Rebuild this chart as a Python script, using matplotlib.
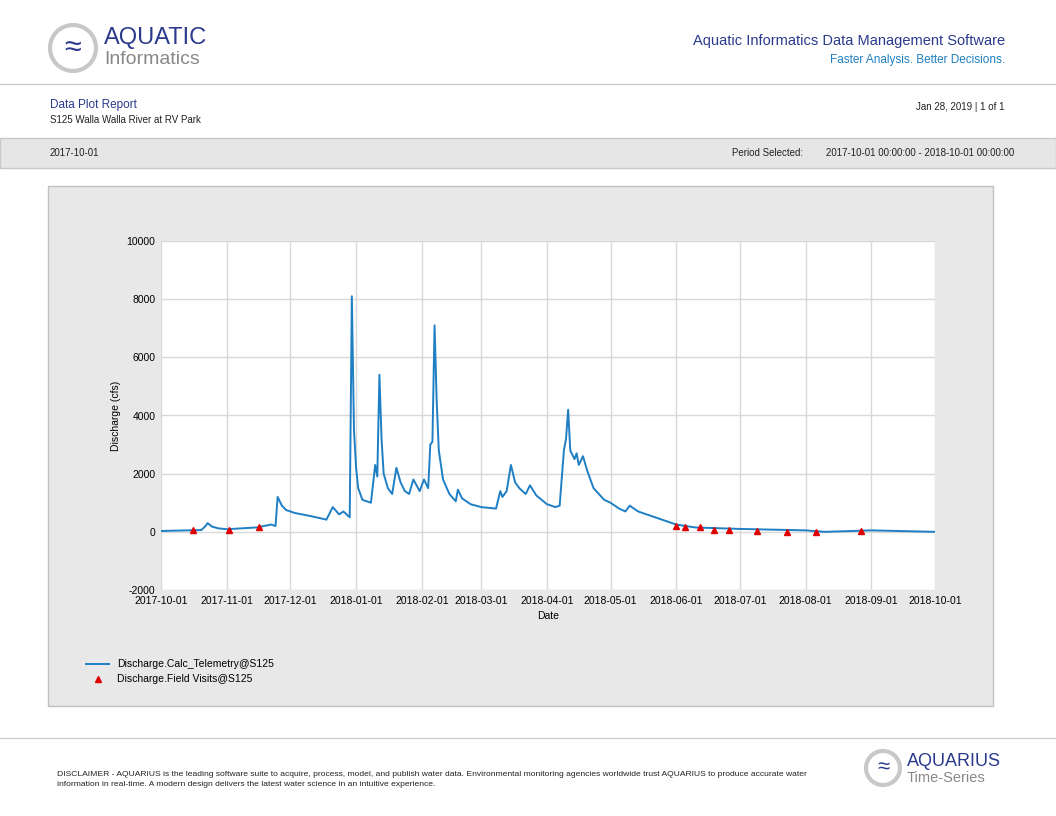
import numpy as np
import pandas as pd
import matplotlib.pyplot as plt
import matplotlib.dates as mdates
from matplotlib.patches import Rectangle, Circle

# Discharge series (hand-read breakpoints)
flow_dates = ["2017-10-01", "2017-10-20", "2017-10-22", "2017-10-23", "2017-10-25", "2017-10-28",
              "2017-11-01", "2017-11-15", "2017-11-22", "2017-11-24", "2017-11-25", "2017-11-27",
              "2017-11-29", "2017-12-03", "2017-12-10", "2017-12-18", "2017-12-21", "2017-12-24",
              "2017-12-26", "2017-12-29", "2017-12-30", "2017-12-31", "2018-01-01", "2018-01-02",
              "2018-01-04", "2018-01-08", "2018-01-10", "2018-01-11", "2018-01-12", "2018-01-13",
              "2018-01-14", "2018-01-16", "2018-01-18", "2018-01-20", "2018-01-22", "2018-01-24",
              "2018-01-26", "2018-01-28", "2018-01-31", "2018-02-02", "2018-02-04", "2018-02-05",
              "2018-02-06", "2018-02-07", "2018-02-08", "2018-02-09", "2018-02-11", "2018-02-14",
              "2018-02-17", "2018-02-18", "2018-02-20", "2018-02-24", "2018-03-01", "2018-03-08",
              "2018-03-10", "2018-03-11", "2018-03-13", "2018-03-15", "2018-03-17", "2018-03-19",
              "2018-03-22", "2018-03-24", "2018-03-27", "2018-04-01", "2018-04-05", "2018-04-07",
              "2018-04-09", "2018-04-10", "2018-04-11", "2018-04-12", "2018-04-14", "2018-04-15",
              "2018-04-16", "2018-04-18", "2018-04-20", "2018-04-23", "2018-04-28", "2018-05-01",
              "2018-05-05", "2018-05-08", "2018-05-10", "2018-05-14", "2018-05-22", "2018-06-01",
              "2018-06-10", "2018-07-01", "2018-08-01", "2018-08-10", "2018-09-01", "2018-10-01"]
flow_values = [30, 60, 200, 300, 180, 120,
               90, 150, 250, 200, 1200, 900,
               750, 650, 550, 420, 850, 600,
               700, 500, 8100, 3500, 2200, 1500,
               1100, 1000, 2300, 1900, 5400, 3200,
               2000, 1500, 1300, 2200, 1700, 1400,
               1300, 1800, 1400, 1800, 1500, 3000,
               3100, 7100, 4500, 2800, 1800, 1300,
               1050, 1450, 1150, 950, 850, 800,
               1400, 1200, 1400, 2300, 1700, 1500,
               1300, 1600, 1250, 950, 850, 900,
               2800, 3200, 4200, 2800, 2500, 2700,
               2300, 2600, 2100, 1500, 1100, 1000,
               800, 700, 900, 700, 500, 250,
               150, 100, 50, 0, 50, 0]

visit_dates = ["2017-10-16", "2017-11-02", "2017-11-16", "2018-06-01", "2018-06-05", "2018-06-12",
               "2018-06-19", "2018-06-26", "2018-07-09", "2018-07-23", "2018-08-06", "2018-08-27"]
visit_values = [50, 50, 180, 200, 150, 150, 80, 80, 30, 10, 0, 20]

x_ticks = ["2017-10-01", "2017-11-01", "2017-12-01", "2018-01-01", "2018-02-01", "2018-03-01",
           "2018-04-01", "2018-05-01", "2018-06-01", "2018-07-01", "2018-08-01", "2018-09-01",
           "2018-10-01"]

W, H = 1056, 816
fig = plt.figure(figsize=(W / 100, H / 100), dpi=100)
plt.rcParams['font.family'] = ['Liberation Sans', 'DejaVu Sans']
plt.rcParams['axes.unicode_minus'] = False


def fx(px):
    return px / W


def fy(py):
    return 1 - py / H


blue_dark = "#2a3a8c"
blue_light = "#1f7fbf"

# header logo
bg = fig.add_axes([0, 0, 1, 1], zorder=-1)
bg.set_xlim(0, W)
bg.set_ylim(H, 0)
bg.axis("off")
bg.add_patch(Circle((73, 48), 23, fill=False, ec="#c8c8c8", lw=3))
bg.text(73, 48, "≈", color=blue_dark, fontsize=22, ha="center", va="center")
bg.text(104, 38, "AQUATIC", color=blue_dark, fontsize=17, va="center")
bg.text(104, 60, "Informatics", color="#888888", fontsize=14, va="center")
bg.text(1005, 41, "Aquatic Informatics Data Management Software", color=blue_dark, fontsize=10.5, ha="right", va="center")
bg.text(1005, 60, "Faster Analysis. Better Decisions.", color=blue_light, fontsize=8.5, ha="right", va="center")
bg.plot([0, W], [84, 84], color="#cccccc", lw=1)
bg.text(50, 105, "Data Plot Report", color=blue_dark, fontsize=8.5, va="center")
bg.text(50, 120, "S125 Walla Walla River at RV Park", color="#222222", fontsize=7, va="center")
bg.text(1005, 107, "Jan 28, 2019 | 1 of 1", color="#222222", fontsize=7, ha="right", va="center")
bg.add_patch(Rectangle((0, 138), W, 30, fc="#e6e6e6", ec="#c8c8c8", lw=1))
bg.text(50, 153, "2017-10-01", fontsize=7, va="center", color="#222222")
bg.text(803, 153, "Period Selected:", fontsize=7, ha="right", va="center", color="#222222")
bg.text(1014, 153, "2017-10-01 00:00:00 - 2018-10-01 00:00:00", fontsize=7, ha="right", va="center", color="#222222")

# chart panel
bg.add_patch(Rectangle((48, 186), 945, 520, fc="#e8e8e8", ec="#c0c0c0", lw=1))

# footer
bg.plot([0, W], [738, 738], color="#cccccc", lw=1)
bg.text(57, 774, "DISCLAIMER - AQUARIUS is the leading software suite to acquire, process, model, and publish water data. "
        "Environmental monitoring agencies worldwide trust AQUARIUS to produce accurate water",
        fontsize=6.1, va="center", color="#222222")
bg.text(57, 785, "information in real-time. A modern design delivers the latest water science in an intuitive experience.",
        fontsize=6.1, va="center", color="#222222")
bg.add_patch(Circle((883, 768), 17, fill=False, ec="#c8c8c8", lw=3))
bg.text(883, 768, "≈", color=blue_dark, fontsize=16, ha="center", va="center")
bg.text(907, 761, "AQUARIUS", color=blue_dark, fontsize=13, va="center")
bg.text(907, 778, "Time-Series", color="#888888", fontsize=10.5, va="center")

# main plot
ax = fig.add_axes([fx(161), fy(590), fx(935 - 161), (590 - 241) / H])
ax.set_facecolor("white")
ax.plot(pd.to_datetime(flow_dates), flow_values, color="#1f7fc4", lw=1.4,
        label="Discharge.Calc_Telemetry@S125")
ax.plot(pd.to_datetime(visit_dates), visit_values, "^", color="#e00000", ms=4, ls="none",
        label="Discharge.Field Visits@S125")
ax.set_xlim(pd.Timestamp("2017-10-01"), pd.Timestamp("2018-10-01"))
ax.set_ylim(-2000, 10000)
ax.set_yticks(range(-2000, 10001, 2000))
ax.set_xticks(pd.to_datetime(x_ticks))
ax.xaxis.set_major_formatter(mdates.DateFormatter("%Y-%m-%d"))
ax.grid(True, color="#d8d8d8", lw=1)
ax.tick_params(labelsize=7.5, length=0, pad=4)
for s in ax.spines.values():
    s.set_visible(False)
ax.set_xlabel("Date", fontsize=7.5)
ax.set_ylabel("Discharge (cfs)", fontsize=7.5)
fig.legend(loc="upper left", bbox_to_anchor=(fx(82), fy(655)), frameon=False, fontsize=7.5,
           handlelength=2.2, borderaxespad=0, labelspacing=0.5)

fig.savefig("out.png", dpi=100)
